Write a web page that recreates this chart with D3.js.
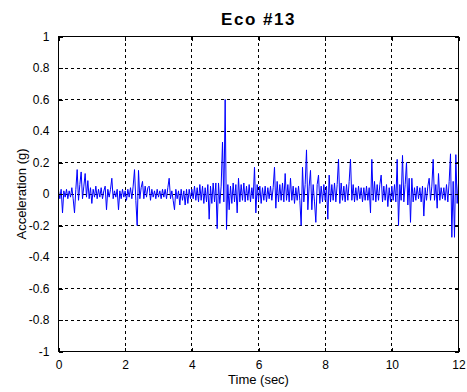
<!DOCTYPE html>
<html>
<head>
<meta charset="utf-8">
<script src="https://cdn.jsdelivr.net/npm/d3@7"></script>
<style>
  html, body { margin: 0; padding: 0; background: #fff; }
  svg { display: block; }
  text { font-family: Arial, "Liberation Sans", Helvetica, sans-serif; fill: #000; }
</style>
</head>
<body>
<svg id="chart" width="467" height="392"></svg>
<script>
// ---------- data ----------
const title = "Eco #13";
const xLabel = "Time (sec)";
const yLabel = "Acceleration (g)";
const xTicks = [0, 2, 4, 6, 8, 10, 12];
const xTickLabels = ["0", "2", "4", "6", "8", "10", "12"];
const yTicks = [-1, -0.8, -0.6, -0.4, -0.2, 0, 0.2, 0.4, 0.6, 0.8, 1];
const yTickLabels = ["-1", "-0.8", "-0.6", "-0.4", "-0.2", "0", "0.2", "0.4", "0.6", "0.8", "1"];
const sampleStart = 0;      // sec
const sampleStep = 0.04;    // sec between samples
const acceleration = [
  0.02, -0.03, 0.03, -0.12, 0.02, -0.02, 0.03, -0.03, 0.02, -0.02, 0.04, -0.03, -0.12, 0.03, 0.155, -0.04, 0.06, 0.14, -0.03, 0.05,
  0.13, -0.02, 0.085, -0.03, 0.04, -0.06, 0.03, -0.02, 0.05, -0.03, 0.03, -0.02, 0.04, -0.03, 0.02, 0.05, -0.1, 0.03, -0.02, 0.03,
  0.1, -0.03, 0.02, -0.02, 0.03, -0.1, 0.02, -0.03, 0.03, -0.02, 0.02, -0.04, 0.03, -0.02, 0.04, -0.03, 0.05, 0.155, -0.04, -0.2,
  0.15, -0.03, 0.04, 0.08, -0.03, 0.05, -0.02, 0.04, 0.05, -0.04, 0.03, -0.02, 0.02, -0.03, 0.03, -0.02, 0.02, -0.03, 0.03, -0.02,
  0.03, -0.03, 0.04, 0.1, -0.03, 0.02, -0.04, -0.1, 0.03, -0.03, 0.02, -0.07, 0.03, -0.04, 0.02, -0.07, 0.03, -0.06, 0.03, -0.03,
  0.03, -0.03, 0.05, -0.04, 0.04, -0.05, 0.06, -0.04, 0.05, -0.06, 0.04, -0.05, 0.06, -0.16, 0.05, -0.06, 0.07, -0.05, 0.07, -0.22,
  0.07, -0.06, 0.05, 0.33, -0.05, 0.6, -0.225, 0.06, -0.1, 0.05, -0.06, 0.07, -0.05, 0.06, -0.12, 0.1, -0.05, 0.06, -0.04, 0.07,
  -0.05, 0.05, -0.04, 0.06, -0.05, 0.04, -0.03, 0.17, -0.12, 0.06, -0.04, 0.05, -0.06, 0.04, -0.04, 0.05, -0.05, 0.04, -0.03, 0.05,
  -0.04, 0.04, 0.17, -0.09, 0.08, -0.05, 0.06, -0.04, 0.07, -0.05, 0.13, -0.04, 0.06, -0.05, 0.1, -0.04, 0.05, -0.06, 0.04, -0.04,
  0.05, -0.04, -0.2, 0.17, -0.05, 0.06, 0.28, -0.1, 0.05, 0.15, -0.1, 0.06, -0.05, -0.18, 0.06, 0.12, -0.06, 0.05, -0.05, 0.06,
  -0.04, 0.05, -0.16, 0.12, -0.05, 0.06, -0.04, 0.07, -0.05, 0.06, 0.22, -0.06, 0.07, -0.04, 0.05, -0.05, 0.06, -0.04, 0.08, 0.22,
  -0.04, 0.06, -0.05, 0.04, -0.04, 0.05, -0.03, 0.04, -0.05, 0.04, -0.04, 0.05, -0.04, 0.04, -0.12, 0.22, -0.04, 0.08, -0.05, 0.06,
  -0.04, 0.06, 0.12, -0.05, 0.05, -0.04, 0.06, -0.08, 0.04, -0.05, 0.05, -0.04, 0.06, -0.05, 0.22, -0.2, 0.06, -0.04, 0.245, -0.05,
  0.06, 0.2, -0.07, 0.1, -0.18, 0.1, -0.05, 0.04, -0.04, 0.05, -0.03, 0.04, -0.05, 0.05, -0.14, 0.04, -0.04, 0.05, 0.1, -0.04,
  0.05, 0.22, -0.04, 0.06, -0.09, 0.13, -0.04, 0.04, -0.03, 0.04, -0.04, 0.06, -0.05, 0.08, 0.255, -0.275, 0.08, -0.275, 0.25, -0.06, 0.07
];

// ---------- chart ----------
const svg = d3.select("#chart");
const mLeft = 58.5, mRight = 458.5, mTop = 36.5, mBottom = 351.5;
const x = d3.scaleLinear().domain([0, 12]).range([mLeft, mRight]);
const y = d3.scaleLinear().domain([-1, 1]).range([mBottom, mTop]);

svg.append("rect").attr("x", mLeft).attr("y", mTop)
  .attr("width", mRight - mLeft).attr("height", mBottom - mTop).attr("fill", "#fff");

// grid
const grid = svg.append("g").attr("stroke", "#000").attr("stroke-width", 1)
  .attr("stroke-dasharray", "3.5,2.5").attr("shape-rendering", "crispEdges");
grid.selectAll("line.gx").data(xTicks.slice(1, -1)).join("line")
  .attr("x1", d => Math.round(x(d) - 0.5) + 0.5).attr("x2", d => Math.round(x(d) - 0.5) + 0.5)
  .attr("y1", mTop).attr("y2", mBottom);
svg.append("g").attr("stroke", "#000").attr("stroke-width", 1)
  .attr("stroke-dasharray", "3.5,2.5").attr("shape-rendering", "crispEdges")
  .selectAll("line").data(yTicks.slice(1, -1)).join("line")
  .attr("y1", d => Math.round(y(d) - 0.5) + 0.5).attr("y2", d => Math.round(y(d) - 0.5) + 0.5)
  .attr("x1", mLeft).attr("x2", mRight);

// signal
const line = d3.line()
  .x((d, i) => x(sampleStart + i * sampleStep))
  .y(d => y(d));
svg.append("path").datum(acceleration)
  .attr("d", line)
  .attr("fill", "none")
  .attr("stroke", "#0000ff")
  .attr("stroke-width", 1)
  .attr("stroke-linejoin", "miter");

// axes (inward ticks on all four sides)
const tickLen = 4;
const axB = d3.axisBottom(x).tickValues(xTicks).tickSizeInner(-tickLen).tickSizeOuter(0)
  .tickPadding(9).tickFormat((d, i) => xTickLabels[i]);
const axT = d3.axisTop(x).tickValues(xTicks).tickSizeInner(-tickLen).tickSizeOuter(0).tickFormat("");
const axL = d3.axisLeft(y).tickValues(yTicks).tickSizeInner(-tickLen).tickSizeOuter(0)
  .tickPadding(9).tickFormat((d, i) => yTickLabels[i]);
const axR = d3.axisRight(y).tickValues(yTicks).tickSizeInner(-tickLen).tickSizeOuter(0).tickFormat("");

function style(g) {
  g.select(".domain").remove();
  g.selectAll("line").attr("stroke", "#000").attr("shape-rendering", "crispEdges");
  g.selectAll("text").attr("font-size", 12).attr("font-family", "Arial, 'Liberation Sans', sans-serif").attr("fill", "#000");
}
svg.append("g").attr("transform", `translate(0,${mBottom})`).call(axB).call(style);
svg.append("g").attr("transform", `translate(0,${mTop})`).call(axT).call(style);
svg.append("g").attr("transform", `translate(${mLeft},0)`).call(axL).call(style);
svg.append("g").attr("transform", `translate(${mRight},0)`).call(axR).call(style);

// box
svg.append("rect").attr("x", mLeft).attr("y", mTop)
  .attr("width", mRight - mLeft).attr("height", mBottom - mTop)
  .attr("fill", "none").attr("stroke", "#000").attr("stroke-width", 1)
  .attr("shape-rendering", "crispEdges");

// titles
svg.append("text").attr("x", (mLeft + mRight) / 2).attr("y", 25)
  .attr("text-anchor", "middle").attr("font-size", 17).attr("font-weight", "bold")
  .attr("letter-spacing", 1.5).text(title);
svg.append("text").attr("x", (mLeft + mRight) / 2).attr("y", 384)
  .attr("text-anchor", "middle").attr("font-size", 13).text(xLabel);
svg.append("text").attr("transform", `translate(26,${(mTop + mBottom) / 2}) rotate(-90)`)
  .attr("text-anchor", "middle").attr("font-size", 13).text(yLabel);
</script>
</body>
</html>
